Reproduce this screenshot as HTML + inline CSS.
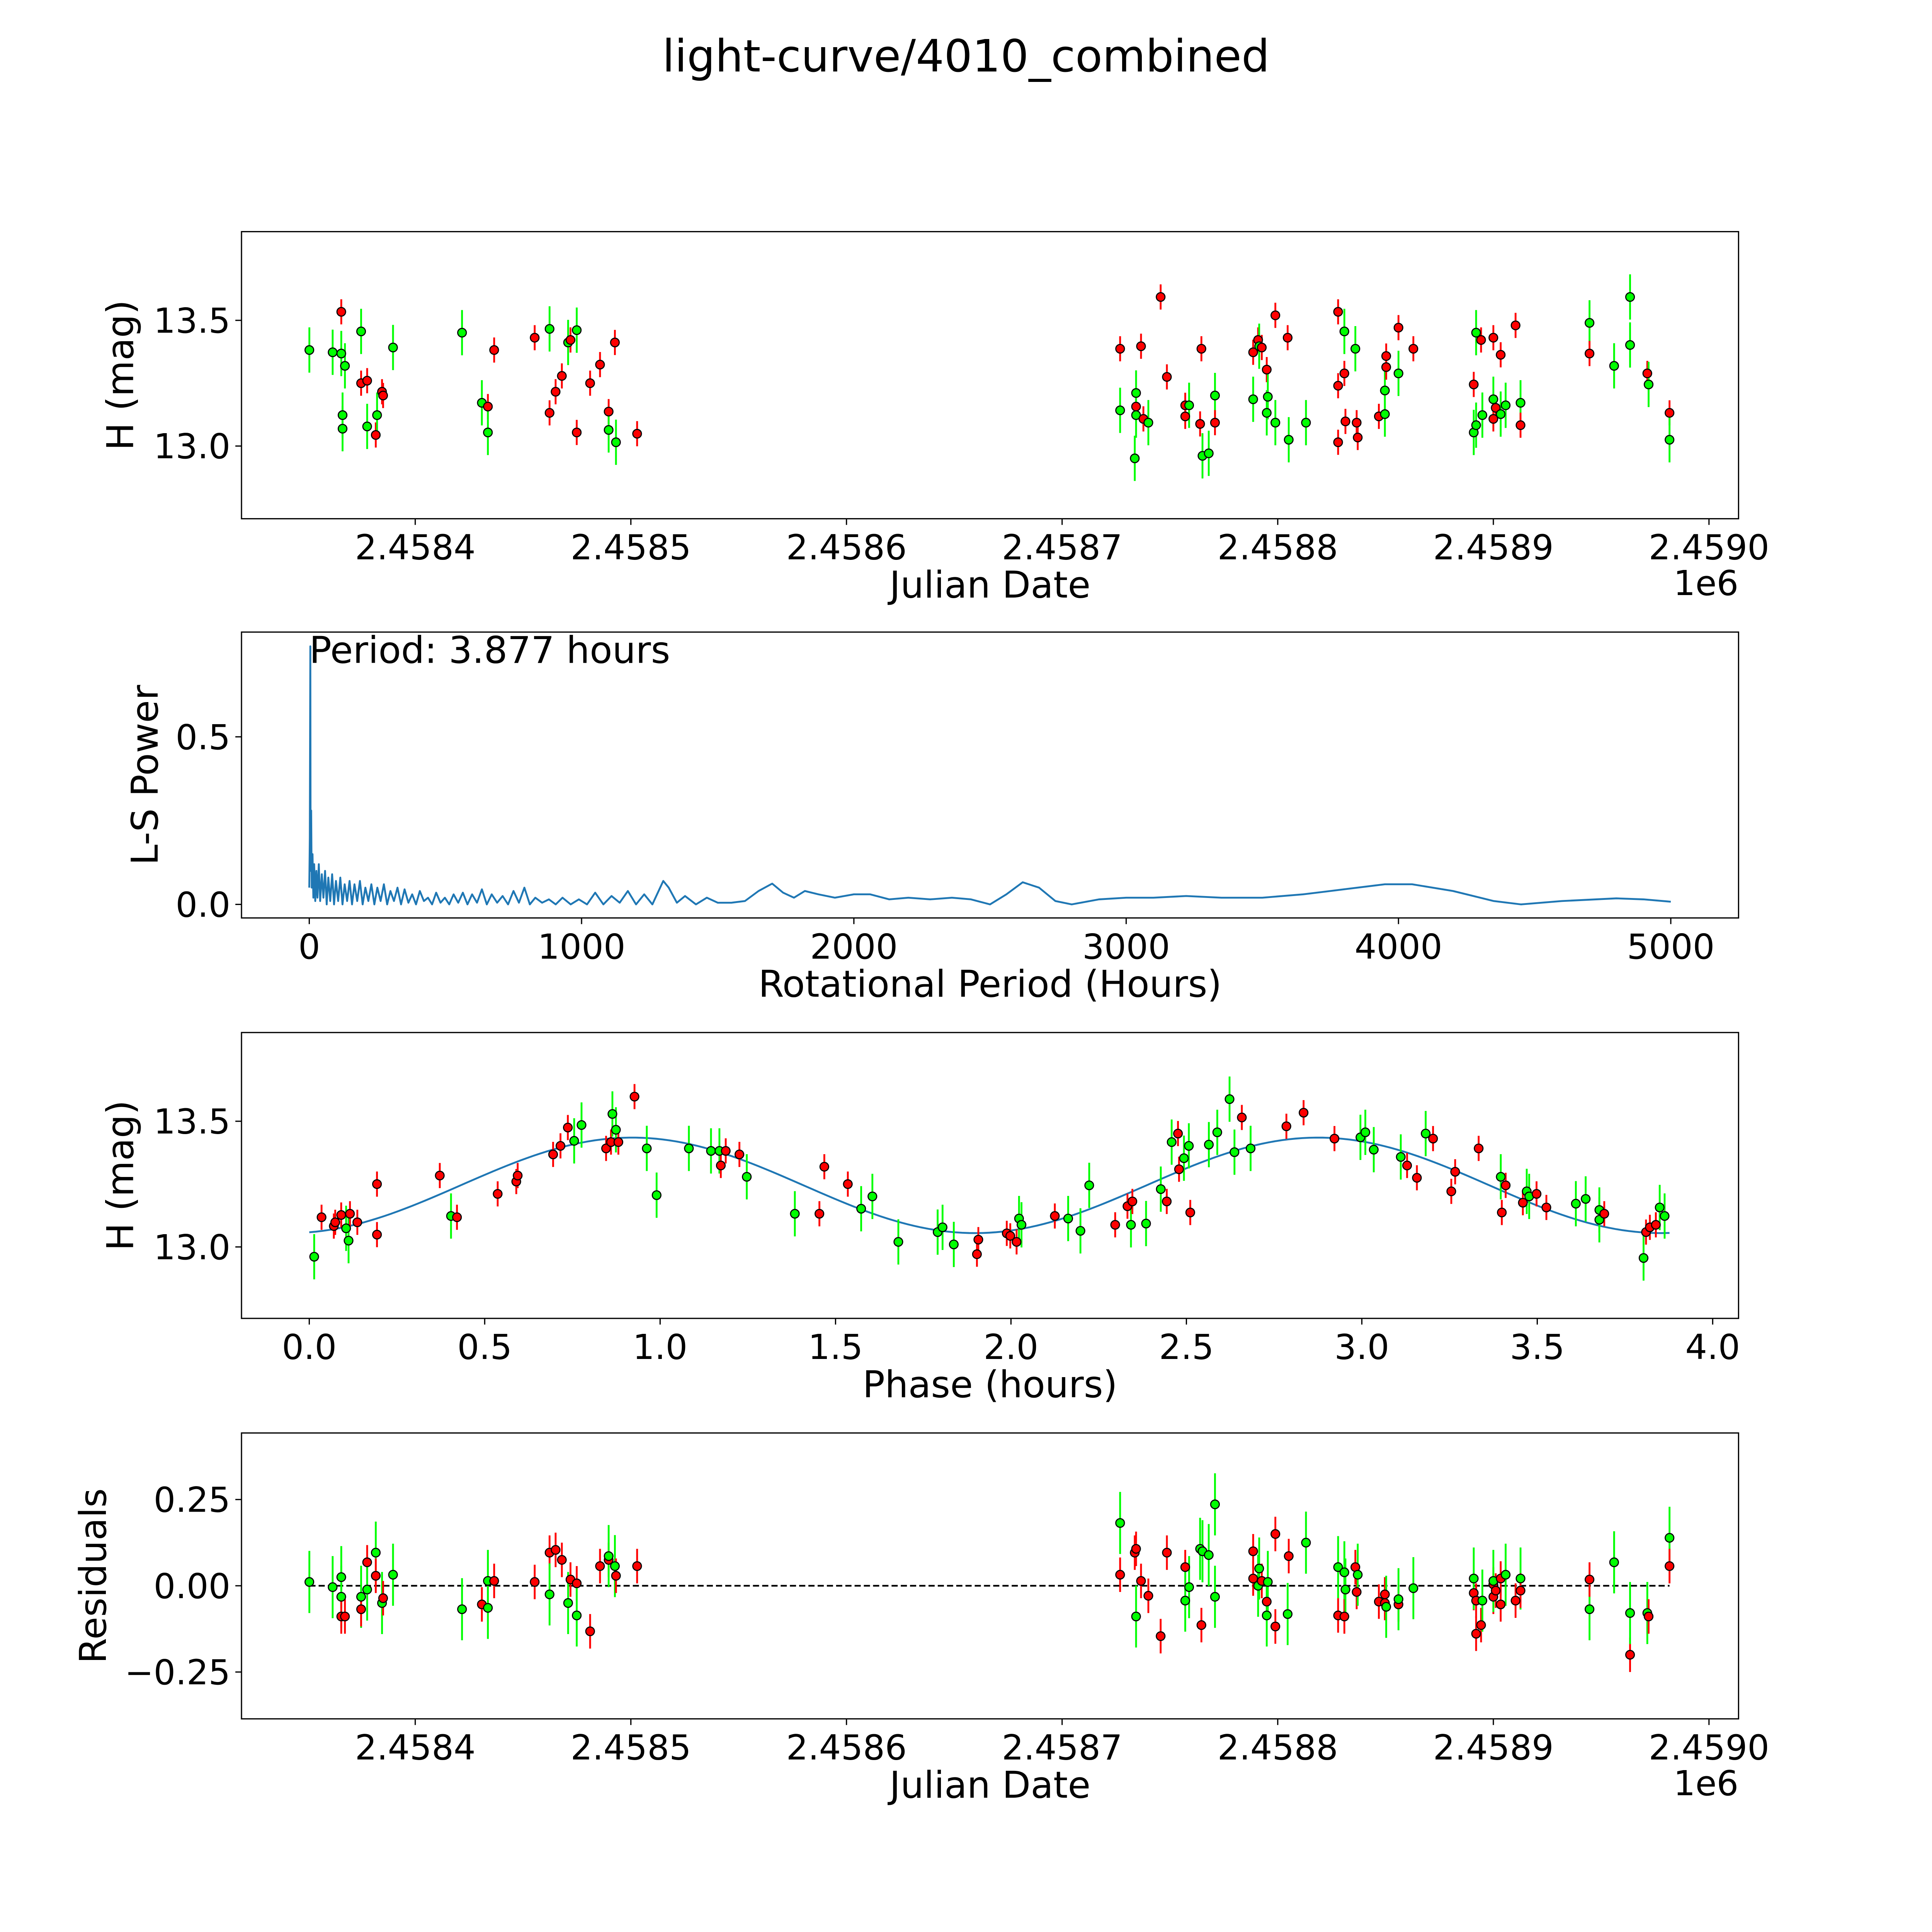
<!DOCTYPE html>
<html><head><meta charset="utf-8">
<style>html,body{margin:0;padding:0;background:#fff;overflow:hidden;width:100%;height:100%}svg{display:block;position:absolute;left:0;top:0;width:100vw;height:100vh}text{font-family:"DejaVu Sans","Liberation Sans",sans-serif}</style>
</head><body>
<svg id="fig" xmlns="http://www.w3.org/2000/svg" viewBox="0 0 1568 1568" preserveAspectRatio="none">
<rect width="1568" height="1568" fill="#fff"/>
<text x="784" y="58" font-size="36" text-anchor="middle">light-curve/4010_combined</text>
</svg>
<script>
const lcDate=[-49.1,-38.3,-34.3,-33.7,-33.7,-34.3,-32.6,-25.1,-25.1,-22.3,-22.3,-18.3,-17.7,-15.4,-14.9,-10.3,21.7,30.9,33.7,33.7,36.6,55.4,62.3,62.3,65.1,68.0,70.9,72.0,74.9,74.9,81.1,85.7,89.7,89.7,92.6,93.1,102.9,326.9,326.9,333.7,334.3,334.3,334.3,336.6,337.7,340.0,345.7,348.6,357.1,357.1,358.9,364.0,364.6,365.1,368.0,370.9,370.9,388.6,388.6,390.9,391.4,392.6,394.9,394.9,395.4,398.9,398.9,404.6,405.1,413.1,428.0,428.0,428.0,430.9,430.9,431.4,436.0,436.6,437.1,446.9,449.7,449.7,450.3,450.3,456.0,456.0,462.9,490.9,490.9,492.0,492.0,494.3,494.9,500.0,500.0,500.0,501.1,503.4,503.4,505.7,510.3,512.6,512.6,544.6,544.6,556.0,563.4,563.4,571.4,572.0,581.7,581.7];
const lcMag=[13.382,13.373,13.368,13.123,13.069,13.534,13.319,13.456,13.25,13.26,13.078,13.044,13.123,13.216,13.201,13.392,13.451,13.172,13.157,13.054,13.382,13.431,13.466,13.132,13.216,13.279,13.412,13.422,13.461,13.054,13.25,13.324,13.137,13.064,13.412,13.015,13.049,13.387,13.142,12.951,13.211,13.157,13.123,13.397,13.108,13.093,13.593,13.275,13.162,13.118,13.162,13.088,13.387,12.961,12.971,13.201,13.093,13.373,13.186,13.422,13.397,13.392,13.304,13.132,13.196,13.520,13.093,13.431,13.025,13.093,13.534,13.015,13.240,13.289,13.456,13.098,13.387,13.093,13.034,13.118,13.127,13.221,13.358,13.314,13.471,13.289,13.387,13.245,13.054,13.083,13.451,13.422,13.123,13.431,13.186,13.108,13.152,13.127,13.363,13.162,13.480,13.172,13.083,13.490,13.368,13.319,13.593,13.402,13.289,13.245,13.132,13.025];
const lcBand="gggggrggrrgrgrrgggrgrrgrrrgrgrrrrgrgrrgggrgrrgrrrrgrrgggrrgrgrrggrgrggrrrrgrgrrrggrrrgrrgggrgrgrrgrgrgrgrgggrgrgrg".split('');
const resDate=[-49.1,-38.3,-34.3,-34.3,-34.3,-32.6,-25.1,-25.1,-22.3,-22.3,-18.3,-18.3,-15.4,-14.9,-10.3,21.7,30.9,33.7,33.7,36.6,55.4,62.3,62.3,65.1,68.0,70.9,72.0,74.9,74.9,81.1,85.7,89.7,89.7,92.6,93.1,102.9,326.9,326.9,333.7,334.3,334.3,336.6,340.0,345.7,348.6,357.1,357.1,358.9,364.0,364.6,365.1,368.0,370.9,370.9,388.6,388.6,390.9,391.4,392.6,394.9,394.9,395.4,398.9,398.9,404.6,405.1,413.1,428.0,428.0,430.9,430.9,431.4,436.0,436.6,437.1,446.9,449.7,449.7,450.3,456.0,456.0,462.9,490.9,490.9,492.0,492.0,494.3,494.9,500.0,500.0,500.0,501.1,503.4,503.4,505.7,510.3,512.6,512.6,544.6,544.6,556.0,563.4,563.4,571.4,572.0,581.7,581.7];
const resVal=[0.011,-0.004,0.025,-0.032,-0.089,-0.089,-0.032,-0.068,0.068,-0.011,0.096,0.029,-0.05,-0.036,0.032,-0.068,-0.054,0.014,-0.064,0.014,0.011,0.096,-0.025,0.104,0.075,-0.05,0.018,0.007,-0.086,-0.132,0.057,0.075,0.086,0.057,0.029,0.057,0.182,0.032,0.096,-0.089,0.107,0.014,-0.029,-0.146,0.096,0.054,-0.043,-0.004,0.107,-0.114,0.1,0.089,0.236,-0.032,0.1,0.021,0,0.05,0.014,-0.046,-0.086,0.011,0.15,-0.118,-0.082,0.086,0.125,0.054,-0.086,0.039,-0.089,-0.011,0.054,-0.018,0.032,-0.046,-0.05,-0.025,-0.061,-0.054,-0.039,-0.007,-0.021,0.021,-0.139,-0.043,-0.114,-0.043,0.004,-0.032,0.014,-0.014,-0.054,0.021,0.032,-0.043,0.021,-0.014,-0.068,0.018,0.068,-0.2,-0.079,-0.079,-0.089,0.139,0.057];
const resBand="ggggrrgrrggrgrggrggrrrgrrgrrgrrrggrrgrrgrrrrrrgggrggggrrggrrggrrgrggrgrgrrgrrrgrggrgrrrgrrgrrrgrgrgrgrggrgrgrg".split('');
const phHours=[0.014,0.035,0.070,0.074,0.091,0.105,0.112,0.116,0.137,0.193,0.193,0.372,0.404,0.421,0.537,0.590,0.594,0.695,0.716,0.737,0.755,0.776,0.846,0.860,0.864,0.874,0.881,0.927,0.962,0.990,1.082,1.145,1.169,1.173,1.187,1.226,1.247,1.384,1.454,1.468,1.535,1.573,1.605,1.679,1.791,1.805,1.837,1.903,1.907,1.988,1.998,2.016,2.023,2.030,2.125,2.163,2.198,2.223,2.297,2.332,2.342,2.346,2.385,2.427,2.444,2.458,2.476,2.479,2.493,2.507,2.511,2.564,2.588,2.623,2.637,2.658,2.683,2.785,2.834,2.922,2.996,3.010,3.034,3.111,3.129,3.157,3.182,3.203,3.255,3.266,3.333,3.396,3.399,3.410,3.459,3.470,3.477,3.498,3.526,3.610,3.638,3.677,3.677,3.691,3.803,3.810,3.821,3.838,3.849,3.863];
const phMag=[12.961,13.118,13.083,13.098,13.127,13.074,13.025,13.132,13.098,13.25,13.049,13.284,13.123,13.118,13.211,13.260,13.284,13.368,13.402,13.475,13.422,13.485,13.392,13.417,13.529,13.466,13.417,13.598,13.392,13.206,13.392,13.382,13.382,13.324,13.382,13.368,13.279,13.132,13.132,13.319,13.250,13.152,13.201,13.020,13.059,13.078,13.010,12.971,13.029,13.054,13.044,13.020,13.113,13.088,13.123,13.113,13.064,13.245,13.088,13.162,13.088,13.181,13.093,13.230,13.181,13.417,13.451,13.309,13.353,13.402,13.137,13.407,13.456,13.588,13.377,13.515,13.392,13.480,13.534,13.431,13.436,13.456,13.387,13.358,13.324,13.275,13.451,13.431,13.221,13.299,13.392,13.279,13.137,13.245,13.176,13.221,13.201,13.211,13.157,13.172,13.191,13.147,13.108,13.132,12.956,13.059,13.078,13.088,13.157,13.123];
const phBand="grrrrggrrrrrgrrrrrrrggrrggrrgggggrrrggrrrggggggrrrrrggrgggrrgrggrgrrggrggggrgrrrggggrrgrrrrgrrrggrrggggrgrrrggg".split('');
const lsPeriod=[0,2,3.877,5,7,9,12,15,18,22,26,30,35,40,46,52,58,64,70,77,84,91,98,106,114,122,130,139,148,157,166,176,186,196,206,217,228,239,250,262,274,286,298,311,324,337,350,364,378,392,406,421,436,451,466,482,498,514,530,547,564,581,598,616,634,652,670,690,710,730,750,770,790,810,830,855,880,905,930,960,990,1020,1050,1080,1110,1140,1170,1200,1230,1260,1300,1320,1350,1380,1420,1460,1500,1550,1600,1650,1700,1740,1780,1820,1870,1930,2000,2060,2130,2200,2280,2360,2430,2500,2560,2620,2680,2740,2800,2900,3000,3100,3220,3350,3500,3650,3800,3950,4050,4200,4350,4450,4600,4800,4900,5000];
const lsPower=[0.05,0.2,0.77,0.1,0.28,0.05,0.15,0.02,0.12,0.01,0.1,0.02,0.12,0.01,0.09,0.02,0.1,0.0,0.08,0.01,0.09,0.0,0.07,0.01,0.08,0.0,0.06,0.01,0.07,0.0,0.06,0.01,0.07,0.0,0.05,0.01,0.06,0.0,0.05,0.01,0.06,0.0,0.04,0.01,0.05,0.0,0.045,0.005,0.03,0.0,0.04,0.01,0.02,0.0,0.035,0.005,0.02,0.0,0.03,0.005,0.035,0.0,0.03,0.005,0.045,0.0,0.03,0.005,0.025,0.0,0.04,0.005,0.05,0.0,0.02,0.005,0.015,0.0,0.02,0.0,0.015,0.0,0.035,0.0,0.025,0.005,0.04,0.0,0.03,0.0,0.07,0.05,0.005,0.025,0.0,0.02,0.005,0.005,0.01,0.04,0.062,0.035,0.02,0.04,0.03,0.02,0.03,0.03,0.015,0.02,0.015,0.02,0.015,0.0,0.03,0.066,0.05,0.01,0.0,0.015,0.02,0.02,0.025,0.02,0.02,0.03,0.045,0.06,0.06,0.04,0.01,0.0,0.01,0.018,0.015,0.008];
const jdTicks=[0,100,200,300,400,500,600];
const jdTickLabels=["2.4584","2.4585","2.4586","2.4587","2.4588","2.4589","2.4590"];
const errRed=0.05, errGreen=0.09, periodHours=3.877;

const NS="http://www.w3.org/2000/svg";
const svg=document.getElementById('fig');
function el(tag,attrs,parent){const e=document.createElementNS(NS,tag);for(const k in attrs)e.setAttribute(k,attrs[k]);(parent||svg).appendChild(e);return e;}
function lin(d0,d1,p0,p1){return v=>p0+(v-d0)*(p1-p0)/(d1-d0);}
const X=196,W=1215;
function axes(name,top,h,xs,xt,xl,ys,yt,yl,xlabel,ylabel,offset){
  const g=el('g',{});
  
  
  xt.forEach((t,i)=>{const x=xs(t);
    el('line',{x1:x,x2:x,y1:top+h,y2:top+h+5,stroke:'#000','stroke-width':1},g);
    const tx=el('text',{x:x,y:top+h+33,'font-size':28,'text-anchor':'middle'},g);tx.textContent=xl[i];
    
    });
  yt.forEach((t,i)=>{const y=ys(t);
    el('line',{x1:X-5,x2:X,y1:y,y2:y,stroke:'#000','stroke-width':1},g);
    const tx=el('text',{x:X-9,y:y+10,'font-size':28,'text-anchor':'end'},g);tx.textContent=yl[i];
    
    });
  const xa=el('text',{x:X+W/2,y:top+h+64,'font-size':30,'text-anchor':'middle'},g);xa.textContent=xlabel;
  
  
  const cy=top+h/2;
  const ya=el('text',{x:0,y:0,'font-size':30,'text-anchor':'middle',transform:`translate(${ylabel.x},${cy}) rotate(-90)`},g);ya.textContent=ylabel.t;
  
  
  if(offset){const o=el('text',{x:X+W,y:top+h+62,'font-size':28,'text-anchor':'end'},g);o.textContent=offset;
    
    }
  const plot=el('g',{},g);
  return {g,plot,frame:()=>el('rect',{x:X,y:top,width:W,height:h,fill:'none',stroke:'#000','stroke-width':1},g)};
}
function points(parent,xs,ys,xv,yv,band,errFn){
  for(let i=0;i<xv.length;i++){const c=band[i]==='r'?'#ff0000':'#00ff00';const e=errFn(band[i]);
    const x=xs(xv[i]);
    const b=el('line',{x1:x,x2:x,y1:ys(yv[i]-e),y2:ys(yv[i]+e),stroke:c,'stroke-width':1.5},parent);
    
    }
  for(let i=0;i<xv.length;i++){const c=band[i]==='r'?'#ff0000':'#00ff00';
    const p=el('circle',{cx:xs(xv[i]),cy:ys(yv[i]),r:3.5,fill:c,stroke:'#000','stroke-width':0.9},parent);
    
    }
}
const errOf=b=>b==='r'?errRed:errGreen;
const jdX=lin(0,600,337,1387);

const y1=lin(13.0,13.5,362,260);
const a1=axes('light-curve-panel',188,233,jdX,jdTicks,jdTickLabels,y1,[13.0,13.5],["13.0","13.5"],'Julian Date',{x:108,t:'H (mag)'},'1e6');
points(a1.plot,jdX,y1,lcDate,lcMag,lcBand,errOf);a1.frame();

const x2=lin(0,5000,251,1356),y2=lin(0,0.5,734,598);
const a2=axes('periodogram-panel',513,232,x2,[0,1000,2000,3000,4000,5000],["0","1000","2000","3000","4000","5000"],y2,[0,0.5],["0.0","0.5"],'Rotational Period (Hours)',{x:128,t:'L-S Power'});
let d='';lsPeriod.forEach((p,i)=>{d+=(i?'L':'M')+x2(p).toFixed(2)+','+y2(lsPower[i]).toFixed(2);});
const ln=el('path',{d:d,fill:'none',stroke:'#1f77b4','stroke-width':1.5,'stroke-linejoin':'round'},a2.plot);


const pt=el('text',{x:251,y:538,'font-size':30},a2.g);pt.textContent='Period: 3.877 hours';


a2.frame();

const x3=lin(0,4,251,1390),y3=lin(13.0,13.5,1012,910);
const a3=axes('phase-panel',838,232,x3,[0,0.5,1,1.5,2,2.5,3,3.5,4],["0.0","0.5","1.0","1.5","2.0","2.5","3.0","3.5","4.0"],y3,[13.0,13.5],["13.0","13.5"],'Phase (hours)',{x:108,t:'H (mag)'});
let md='';for(let k=0;k<=200;k++){const p=periodHours*k/200;const m=13.245+0.19*Math.cos(2*Math.PI*(p-0.92)/1.955);md+=(k?'L':'M')+x3(p).toFixed(2)+','+y3(m).toFixed(2);}
const mc=el('path',{d:md,fill:'none',stroke:'#1f77b4','stroke-width':1.5},a3.plot);


points(a3.plot,x3,y3,phHours,phMag,phBand,errOf);a3.frame();

const y4=lin(0,0.25,1287,1217);
const a4=axes('residuals-panel',1163,232,jdX,jdTicks,jdTickLabels,y4,[-0.25,0,0.25],["\u22120.25","0.00","0.25"],'Julian Date',{x:86,t:'Residuals'},'1e6');
const zl=el('line',{x1:jdX(-49.1),x2:jdX(581.7),y1:y4(0),y2:y4(0),stroke:'#000','stroke-width':1.4,'stroke-dasharray':'5,2.5'},a4.plot);


points(a4.plot,jdX,y4,resDate,resVal,resBand,errOf);a4.frame();
</script>
</body></html>
